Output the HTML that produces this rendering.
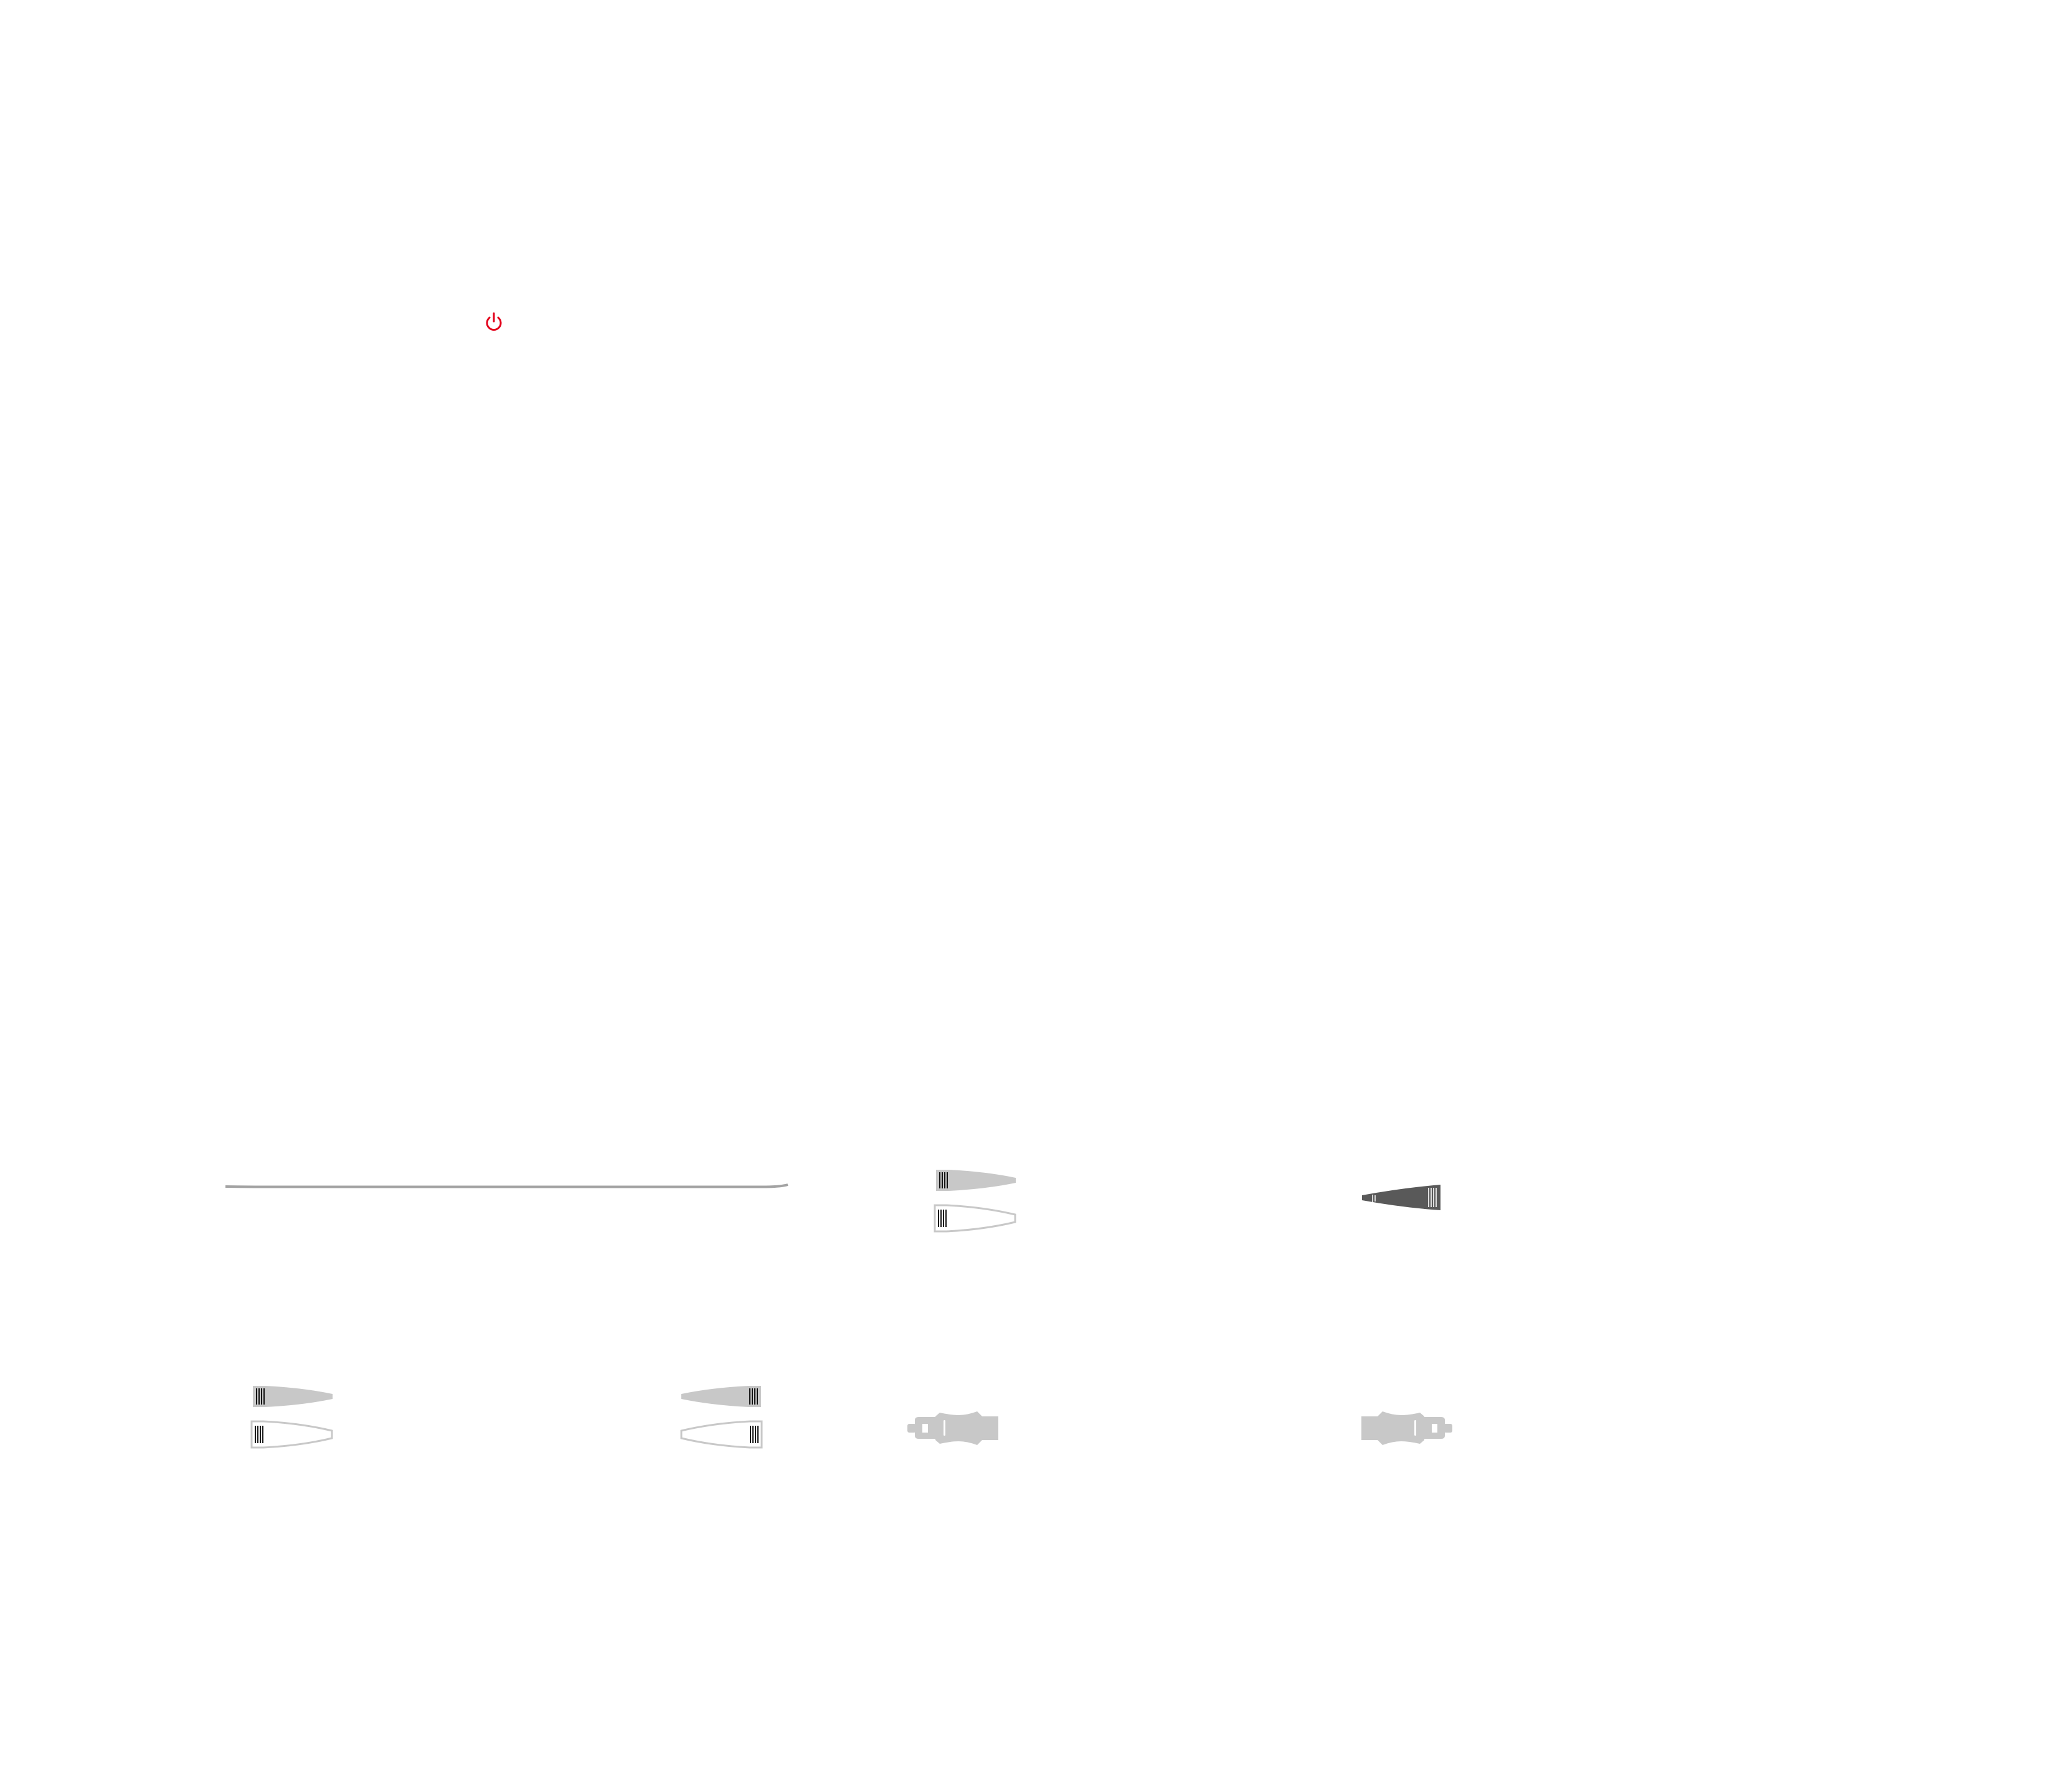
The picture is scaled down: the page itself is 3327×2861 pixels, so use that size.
<!DOCTYPE html>
<html><head><meta charset="utf-8"><style>
html,body{margin:0;padding:0;background:#fff;}
svg{display:block;}
</style></head><body>
<svg width="3327" height="2861" viewBox="0 0 3327 2861" xmlns="http://www.w3.org/2000/svg">
<defs>
  <g id="grayR">
    <path d="M0,0 L20,0 Q80,3 128,13 L128,21 Q80,31 20,34 L0,34 Z" fill="#c8c8c8"/>
    <g stroke="#000" stroke-width="1.8"><line x1="6" y1="4" x2="6" y2="30"/><line x1="10" y1="4" x2="10" y2="30"/><line x1="14" y1="4" x2="14" y2="30"/><line x1="18" y1="4" x2="18" y2="30"/></g>
  </g>
  <g id="whiteR">
    <path d="M1,1 L20,1 Q80,4 130,16 L130,28 Q80,40 20,43 L1,43 Z" fill="#fff" stroke="#c8c8c8" stroke-width="3"/>
    <g stroke="#000" stroke-width="1.8"><line x1="7" y1="8" x2="7" y2="36"/><line x1="11" y1="8" x2="11" y2="36"/><line x1="15" y1="8" x2="15" y2="36"/><line x1="19" y1="8" x2="19" y2="36"/></g>
  </g>
  <g id="plug" fill="#c8c8c8">
    <rect x="0" y="20" width="14" height="14" rx="3"/>
    <path d="M12,14 Q12,9 18,9 L45,9 L45,44 L18,44 Q12,44 12,39 Z"/>
    <path d="M45,8 L52,2 Q70,6 82,6 Q96,6 112,0 L120,8 L146,8 L146,46 L120,46 L112,54 Q96,48 82,48 Q70,48 52,52 L45,46 Z"/>
    <rect x="24" y="20" width="9" height="14" fill="#fff"/>
    <rect x="58" y="14" width="3" height="25" rx="1.5" fill="#fff"/>
  </g>
</defs>

<g fill="none" stroke="#e3001b" stroke-width="3" stroke-linecap="round">
  <path d="M786,510 A11,11 0 1 0 800,510"/>
  <line x1="793" y1="503" x2="793" y2="516"/>
</g>

<path d="M362,1905 L410,1905.5 L1230,1905.5 Q1255,1905 1265,1902" fill="none" stroke="#a3a3a3" stroke-width="4"/>

<use href="#grayR" x="1503" y="1878"/>
<use href="#whiteR" x="1500" y="1934"/>

<g transform="translate(2313,1902) scale(-1,1)">
  <path d="M0,0 Q60,5 126,17 L126,25 Q60,37 0,41 Z" fill="#595959"/>
  <g stroke="#fff" stroke-width="1.6"><line x1="7" y1="5" x2="7" y2="36"/><line x1="11" y1="5" x2="11" y2="36"/><line x1="15" y1="5" x2="15" y2="36"/><line x1="19" y1="5" x2="19" y2="36"/></g>
  <g stroke="#fff" stroke-width="1.5"><line x1="105" y1="17" x2="105" y2="27"/><line x1="109" y1="16" x2="109" y2="28"/></g>
</g>

<use href="#grayR" x="406" y="2225"/>
<use href="#whiteR" x="403" y="2281"/>

<g transform="translate(2316,0) scale(-1,1)">
  <use href="#grayR" x="1094" y="2225"/>
  <use href="#whiteR" x="1092" y="2281"/>
</g>

<use href="#plug" x="1457" y="2266"/>
<g transform="translate(4518,0) scale(-1,1)">
  <use href="#plug" x="2186" y="2266"/>
</g>
</svg>
</body></html>
